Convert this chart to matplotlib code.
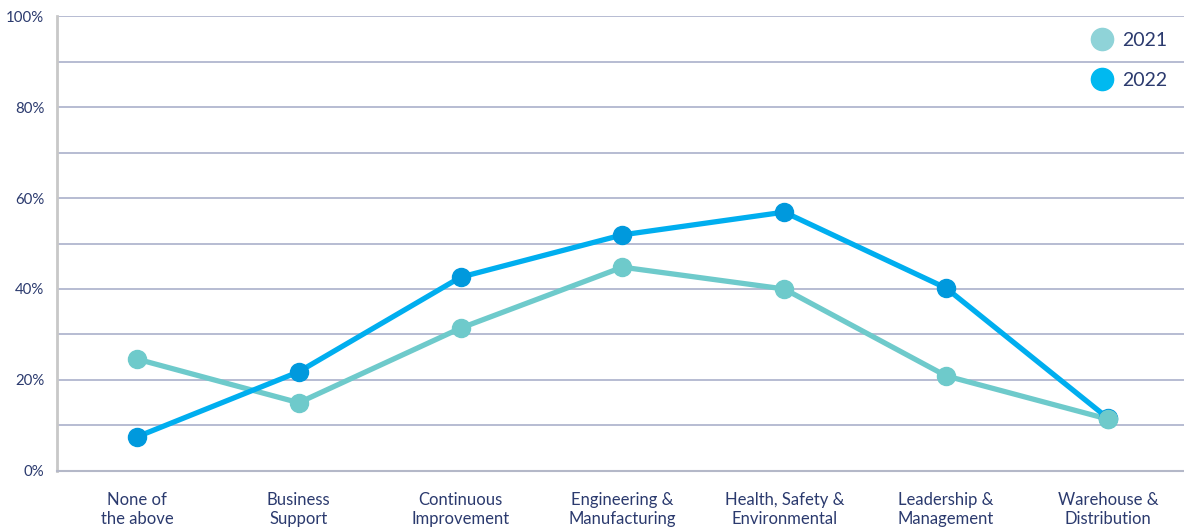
import matplotlib.pyplot as plt
from matplotlib.lines import Line2D
from matplotlib.ticker import MultipleLocator, FuncFormatter

categories = ["None of\nthe above", "Business\nSupport", "Continuous\nImprovement",
              "Engineering &\nManufacturing", "Health, Safety &\nEnvironmental",
              "Leadership &\nManagement", "Warehouse &\nDistribution"]
values_2021 = [24.6, 15.0, 31.4, 44.8, 40.0, 20.9, 11.4]
values_2022 = [7.5, 21.8, 42.6, 51.9, 56.9, 40.2, 11.6]

navy = "#2b3a6e"
plt.rcParams['font.family'] = ['Lato', 'DejaVu Sans']

fig = plt.figure(figsize=(11.84, 5.27), dpi=100)
ax = fig.add_axes([0.048, 0.1063, 0.952, 0.8633])

x = range(len(categories))
ax.plot(x, values_2021, color="#6ecacb", lw=3.8, marker="o", ms=13,
        mfc="#6ecacb", mec="#6ecacb", zorder=3)
ax.plot(x, values_2022, color="#00aeef", lw=3.8, marker="o", ms=13,
        mfc="#0099dd", mec="#0099dd", zorder=4)
# 2021 last point sits over 2022 in the reference
ax.plot([6], [values_2021[6]], marker="o", ms=13, color="#6ecacb", zorder=5, ls="none")

ax.set_xlim(-0.495, 6.47)
ax.set_ylim(0, 100)
ax.yaxis.set_major_locator(MultipleLocator(20))
ax.yaxis.set_minor_locator(MultipleLocator(10))
ax.yaxis.set_major_formatter(FuncFormatter(lambda v, p: f"{v:.0f}%"))
ax.grid(axis="y", which="both", color="#a3aac6", lw=1.1)
ax.set_axisbelow(True)

ax.set_xticks(list(x))
ax.set_xticklabels(categories, fontsize=12, color=navy, linespacing=1.25)
ax.tick_params(axis="x", length=0, pad=15)
ax.tick_params(axis="y", which="both", length=0, labelsize=10.8, labelcolor=navy, pad=9)

for s in ["top", "right"]:
    ax.spines[s].set_visible(False)
ax.spines["left"].set_color("#c8c8c8")
ax.spines["left"].set_linewidth(2)
ax.spines["bottom"].set_color("#b4b8c8")
ax.spines["bottom"].set_linewidth(1.5)

handles = [Line2D([], [], ls="none", marker="o", ms=16, color="#8fd3d8", label="2021"),
           Line2D([], [], ls="none", marker="o", ms=16, color="#00b9f0", label="2022")]
leg = ax.legend(handles=handles, loc="upper right", bbox_to_anchor=(0.997, 0.995),
                frameon=False, fontsize=14, labelspacing=1.2, handletextpad=0.4,
                handlelength=1.2, borderaxespad=0.3)
for t in leg.get_texts():
    t.set_color(navy)

fig.savefig("out.png", dpi=100)
